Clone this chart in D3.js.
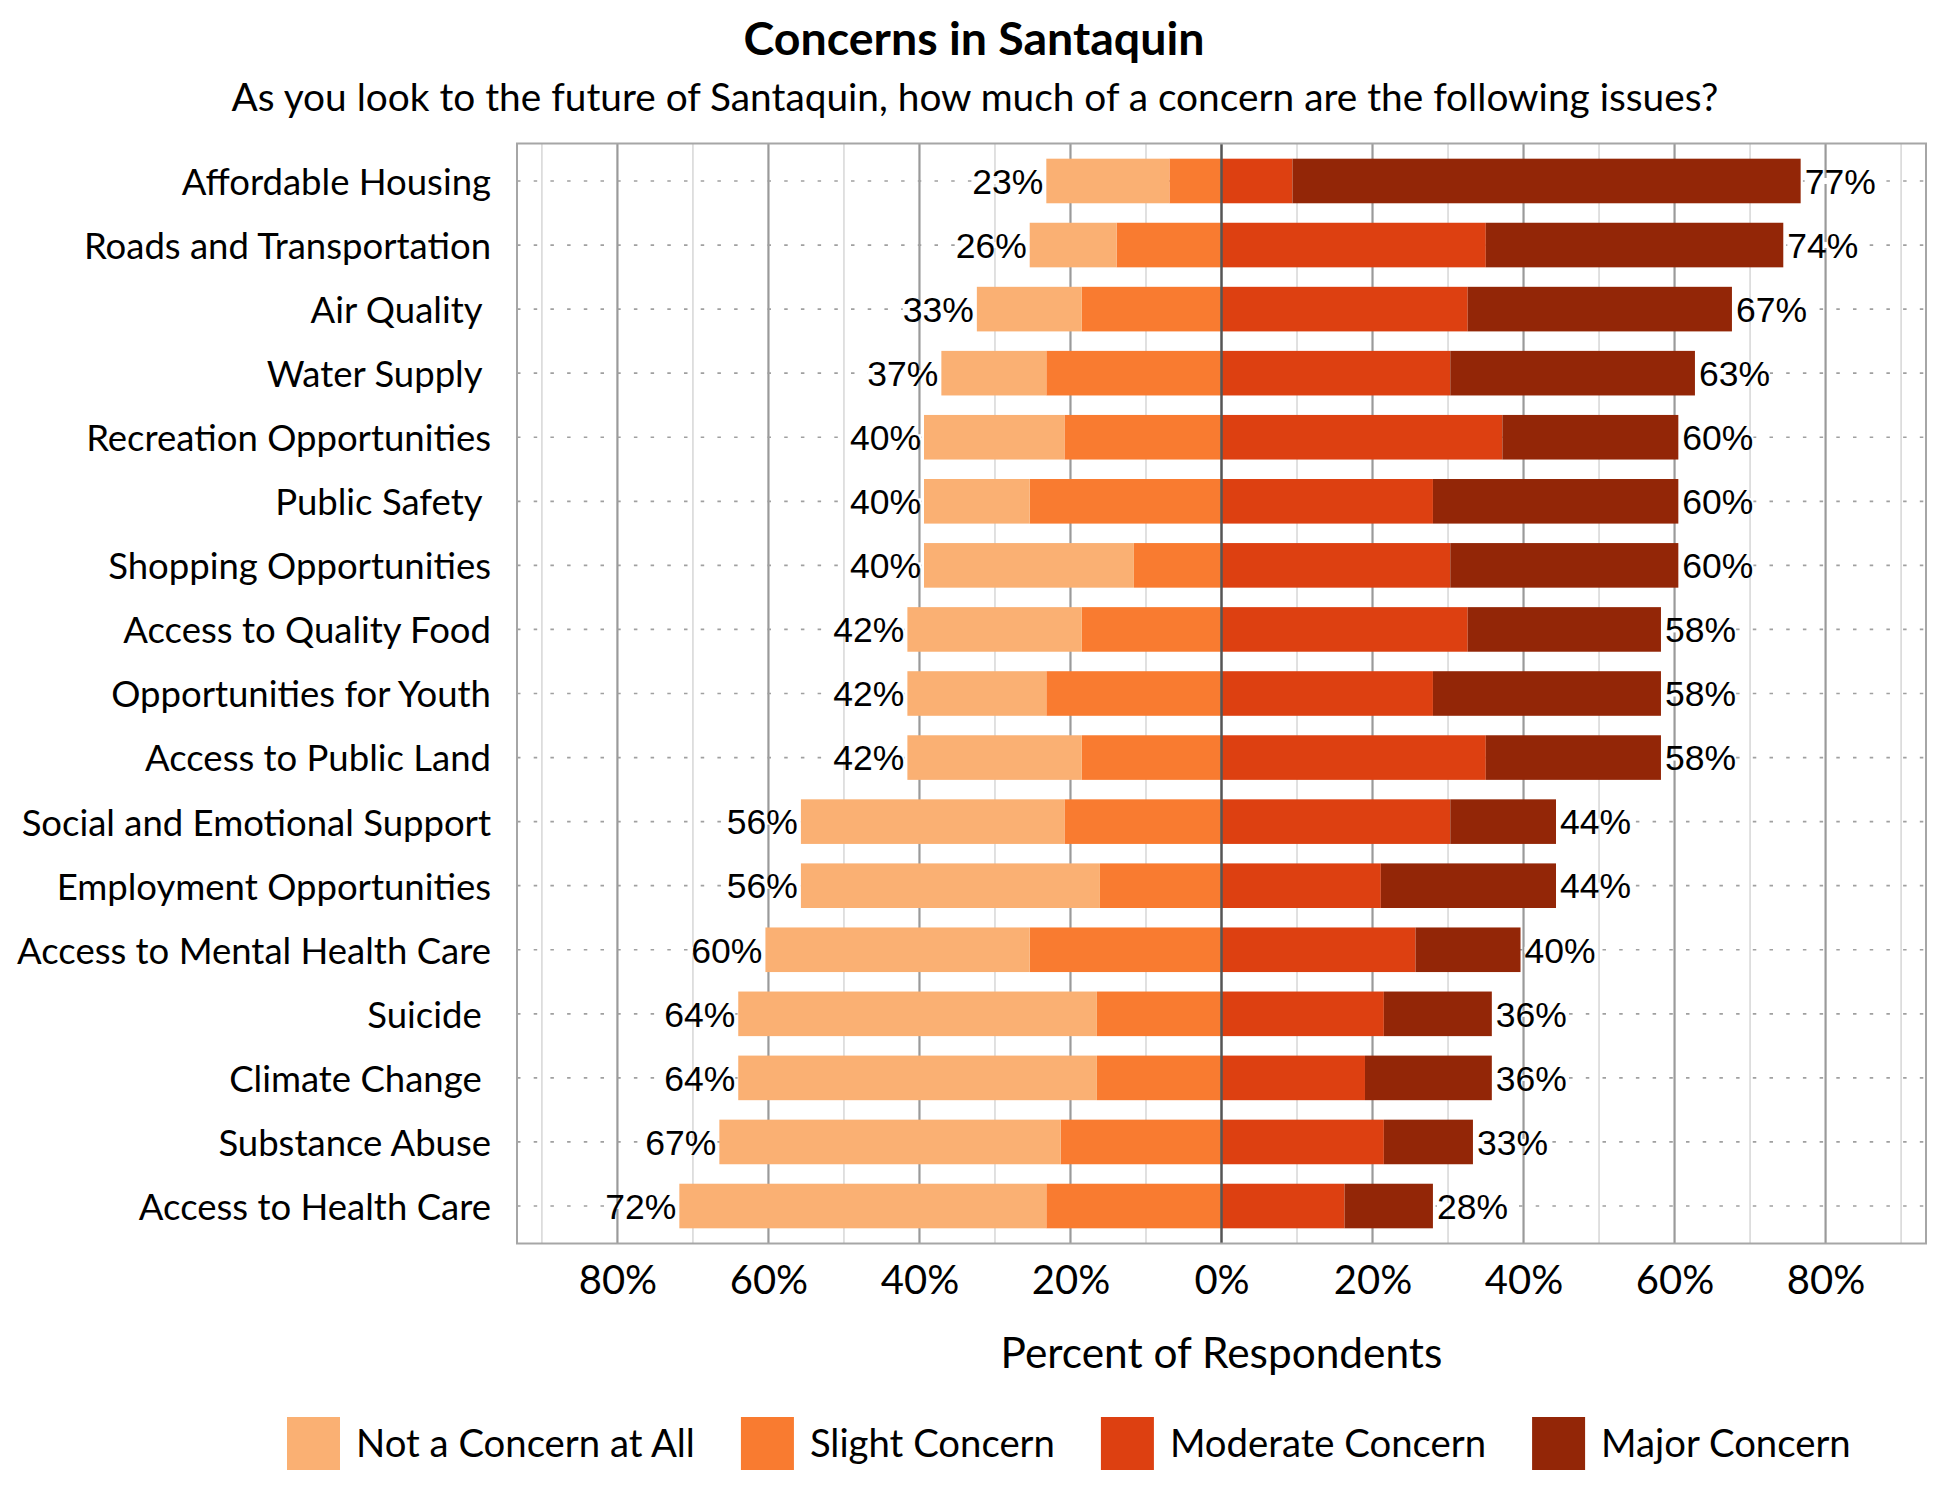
<!DOCTYPE html>
<html>
<head>
<meta charset="utf-8">
<script src="https://cdn.jsdelivr.net/npm/d3@7"></script>
<style>
  body { margin: 0; background: #fff; }
  text { font-family: Lato, "Open Sans", sans-serif; fill: #000; }
  .valueLabel { font-family: "Liberation Sans", Arial, sans-serif; font-size: 35.5px; }
  .cat text { white-space: pre; }
</style>
</head>
<body>
<div id="chart"></div>
<script>
// Data
const categories = [
  "Affordable Housing", "Roads and Transportation", "Air Quality ", "Water Supply ",
  "Recreation Opportunities", "Public Safety ", "Shopping Opportunities",
  "Access to Quality Food", "Opportunities for Youth", "Access to Public Land",
  "Social and Emotional Support", "Employment Opportunities",
  "Access to Mental Health Care", "Suicide ", "Climate Change ", "Substance Abuse",
  "Access to Health Care"
];
const notAtAll = [16.3, 11.5, 13.9, 13.9, 18.6, 14.0, 27.8, 23.1, 18.4, 23.1, 34.9, 39.6, 35.0, 47.5, 47.5, 45.2, 48.6];
const slight   = [6.9, 13.9, 18.5, 23.2, 20.8, 25.4, 11.6, 18.5, 23.2, 18.5, 20.8, 16.1, 25.4, 16.5, 16.5, 21.3, 23.2];
const moderate = [9.4, 35.0, 32.6, 30.3, 37.2, 28.0, 30.3, 32.6, 28.0, 35.0, 30.3, 21.1, 25.7, 21.5, 19.0, 21.5, 16.3];
const major    = [67.3, 39.4, 35.0, 32.4, 23.3, 32.5, 30.2, 25.6, 30.2, 23.2, 14.0, 23.2, 13.9, 14.3, 16.8, 11.8, 11.7];
const negLabels = ["23%","26%","33%","37%","40%","40%","40%","42%","42%","42%","56%","56%","60%","64%","64%","67%","72%"];
const posLabels = ["77%","74%","67%","63%","60%","60%","60%","58%","58%","58%","44%","44%","40%","36%","36%","33%","28%"];
const legendNames = ["Not a Concern at All", "Slight Concern", "Moderate Concern", "Major Concern"];
const colours = ["#fab073", "#f97b30", "#dd4011", "#932607"];
const tickValues = [-80, -60, -40, -20, 0, 20, 40, 60, 80];

const width = 1950;
const height = 1500;
const margin = { top: 143.5, right: 24, bottom: 256.5, left: 517 };

const svg = d3.select("#chart").append("svg")
    .attr("width", width)
    .attr("height", height)
    .attr("viewBox", [0, 0, width, height]);

svg.append("rect").attr("width", width).attr("height", height).attr("fill", "#fff");

// rows, negative values go left of zero
const rows = categories.map((c, i) => ({
  name: c,
  notAtAll: -notAtAll[i],
  slight: -slight[i],
  moderate: moderate[i],
  major: major[i],
  neg: negLabels[i],
  pos: posLabels[i]
}));

const keys = ["notAtAll", "slight", "moderate", "major"];
const colour = d3.scaleOrdinal().domain(keys).range(colours);

const series = d3.stack()
    .keys(["slight", "notAtAll", "moderate", "major"])
    .offset(d3.stackOffsetDiverging)(rows);

const x = d3.scaleLinear()
    .domain([-93.3, 93.3])
    .range([margin.left, width - margin.right]);

const y = d3.scaleBand()
    .domain(categories)
    .range([margin.top, height - margin.bottom])
    .paddingInner(0.304)
    .paddingOuter(0.237);

const plotTop = margin.top, plotBottom = height - margin.bottom;

// gridlines every 10%
svg.append("g")
  .selectAll("line")
  .data(d3.range(-90, 91, 10).filter(d => d !== 0))
  .join("line")
    .attr("x1", d => x(d)).attr("x2", d => x(d))
    .attr("y1", plotTop).attr("y2", plotBottom)
    .attr("stroke", d => d % 20 === 0 ? "#9a9a9a" : "#d0d0d0")
    .attr("stroke-width", d => d % 20 === 0 ? 2.2 : 1.3);

// dotted row lines
svg.append("g")
  .selectAll("line")
  .data(categories)
  .join("line")
    .attr("x1", x.range()[0]).attr("x2", x.range()[1])
    .attr("y1", d => y(d) + y.bandwidth() / 2)
    .attr("y2", d => y(d) + y.bandwidth() / 2)
    .attr("stroke", "#a0a0a0")
    .attr("stroke-width", 1.7)
    .attr("stroke-dasharray", "3.5,13.2");

// bars
svg.append("g")
  .selectAll("g")
  .data(series)
  .join("g")
    .attr("fill", d => colour(d.key))
  .selectAll("rect")
  .data(d => d)
  .join("rect")
    .attr("x", d => x(Math.min(d[0], d[1])))
    .attr("width", d => Math.abs(x(d[1]) - x(d[0])))
    .attr("y", d => y(d.data.name))
    .attr("height", y.bandwidth());

// zero line
svg.append("line")
    .attr("x1", x(0)).attr("x2", x(0))
    .attr("y1", plotTop).attr("y2", plotBottom)
    .attr("stroke", "#555")
    .attr("stroke-width", 2.5);

// plot border
svg.append("rect")
    .attr("x", x.range()[0]).attr("y", plotTop)
    .attr("width", x.range()[1] - x.range()[0])
    .attr("height", plotBottom - plotTop)
    .attr("fill", "none")
    .attr("stroke", "#a6a6a6")
    .attr("stroke-width", 2);

// value labels
const totalNeg = d => -(d.notAtAll + d.slight);
const totalPos = d => d.moderate + d.major;

const labels = svg.append("g");

function addLabel(g, xpos, ypos, anchor, txt) {
  const t = g.append("text")
      .attr("class", "valueLabel")
      .attr("x", xpos)
      .attr("y", ypos)
      .attr("dy", "0.36em")
      .attr("text-anchor", anchor)
      .text(txt);
  const b = t.node().getBBox();
  g.insert("rect", () => t.node())
      .attr("x", b.x).attr("width", b.width)
      .attr("y", ypos - 3).attr("height", 6)
      .attr("fill", "#fff");
}

rows.forEach(d => {
  const cy = y(d.name) + y.bandwidth() / 2;
  addLabel(labels, x(-totalNeg(d)) - 3, cy, "end", d.neg);
  addLabel(labels, x(totalPos(d)) + 4, cy, "start", d.pos);
});

// category axis
const yAxis = svg.append("g")
    .attr("class", "cat")
    .attr("transform", `translate(${margin.left},0)`)
    .call(d3.axisLeft(y).tickSize(0).tickPadding(26));
yAxis.select(".domain").remove();
yAxis.selectAll("text")
    .style("font-family", "Lato, sans-serif")
    .style("font-size", "36.5px")
    .attr("dy", "0.38em")
    .attr("fill", "#000");

// x axis
const xAxis = svg.append("g")
    .attr("transform", `translate(0,${plotBottom})`)
    .call(d3.axisBottom(x).tickValues(tickValues).tickSize(0).tickPadding(22)
      .tickFormat(d => Math.abs(d) + "%"));
xAxis.select(".domain").remove();
xAxis.selectAll("text")
    .style("font-family", "Lato, sans-serif")
    .style("font-size", "40px")
    .attr("fill", "#000");

// axis title
svg.append("text")
    .attr("x", x(0))
    .attr("y", 1368)
    .attr("text-anchor", "middle")
    .style("font-size", "42.4px")
    .text("Percent of Respondents");

// titles
svg.append("text")
    .attr("x", 974)
    .attr("y", 55)
    .attr("text-anchor", "middle")
    .style("font-size", "46.5px")
    .style("font-weight", "bold")
    .text("Concerns in Santaquin");

svg.append("text")
    .attr("x", 975)
    .attr("y", 111)
    .attr("text-anchor", "middle")
    .style("font-size", "38.8px")
    .text("As you look to the future of Santaquin, how much of a concern are the following issues?");

// legend
const legend = svg.append("g").attr("transform", "translate(287,1417)");
let lx = 0;
legendNames.forEach((name, i) => {
  const item = legend.append("g").attr("transform", `translate(${lx},0)`);
  item.append("rect")
      .attr("width", 53).attr("height", 53)
      .attr("fill", colours[i]);
  const t = item.append("text")
      .attr("x", 69)
      .attr("y", 40)
      .style("font-size", "38.3px")
      .text(name);
  lx += 69 + t.node().getComputedTextLength() + 46;
});
</script>
</body>
</html>
